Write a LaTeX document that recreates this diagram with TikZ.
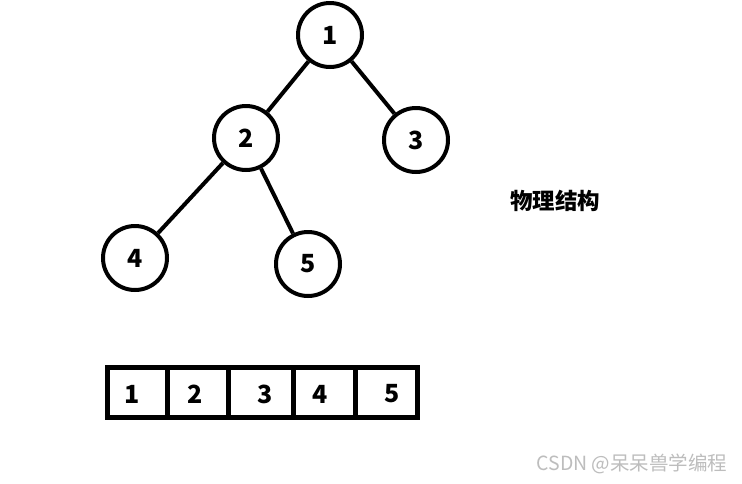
\documentclass[tikz,border=0pt]{standalone}
\usepackage{fontspec}
\setmainfont{Noto Sans CJK SC}
\definecolor{wmgray}{HTML}{BDBDBD}
\begin{document}
\begin{tikzpicture}[x=1pt,y=-1pt,
  vtx/.style={circle,draw,line width=4pt,minimum size=64pt,inner sep=0pt,font=\fontsize{25}{25}\selectfont\bfseries},
  edge/.style={line width=4pt},
  cell/.style={draw,line width=5pt,minimum height=50pt,inner sep=0pt},
  num/.style={inner sep=0pt,font=\fontsize{25}{25}\selectfont\bfseries}]
\useasboundingbox[fill=white] (0,0) rectangle (742,483);
% tree
\node[vtx] (n1) at (330,35) {1};
\node[vtx] (n2) at (246,138) {2};
\node[vtx] (n3) at (416,140) {3};
\node[vtx] (n4) at (135,258) {4};
\node[vtx] (n5) at (308,264) {5};
\draw[edge] (n1) -- (n2);
\draw[edge] (n1) -- (n3);
\draw[edge] (n2) -- (n4);
\draw[edge] (n2) -- (n5);
% label
\node[inner sep=0pt,font=\fontsize{22.5}{22.5}\selectfont\bfseries] (lab) at (555,201) {物理结构};
% array
\node[cell,minimum width=59.5pt] (c1) at (137.25,392.5) {};
\node[cell,minimum width=61pt] (c2) at (197.5,392.5) {};
\node[cell,minimum width=65pt] (c3) at (260.5,392.5) {};
\node[cell,minimum width=62pt] (c4) at (324,392.5) {};
\node[cell,minimum width=62.5pt] (c5) at (386.25,392.5) {};
\node[num] (t1) at (132,394) {1};
\node[num] (t2) at (195,394) {2};
\node[num] (t3) at (265,394) {3};
\node[num] (t4) at (320,394) {4};
\node[num] (t5) at (392,394) {5};
% watermark
\node[inner sep=0pt,text=wmgray,font=\fontsize{19.5}{19.5}\selectfont] (wm) at (632,464) {CSDN @呆呆兽学编程};
\end{tikzpicture}
\end{document}
